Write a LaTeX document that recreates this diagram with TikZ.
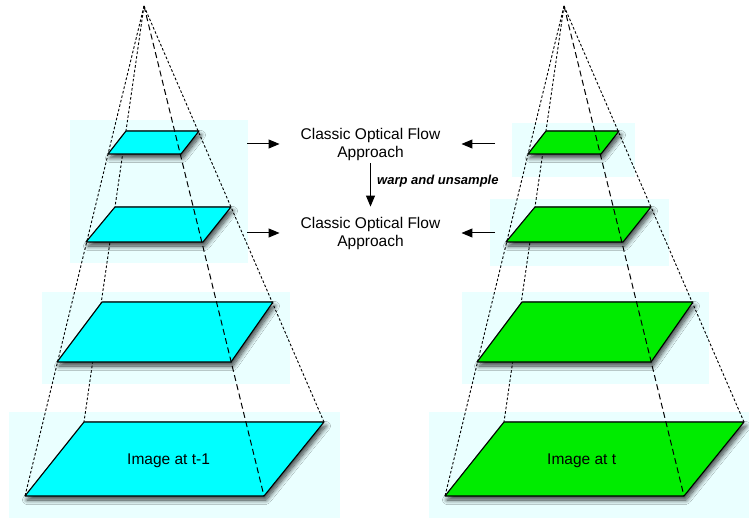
\documentclass[tikz,border=0pt]{standalone}
\usepackage{fontspec}
\setmainfont{Liberation Sans}
\usetikzlibrary{arrows.meta,shadows.blur}

\definecolor{haze}{RGB}{234,255,255}
\definecolor{planecyan}{RGB}{0,255,255}
\definecolor{planegreen}{RGB}{0,236,0}

\tikzset{
  panel/.style={fill=haze, draw=none},
  plane/.style={draw=black, line width=1.1pt, line join=round,
    blur shadow={shadow xshift=2pt, shadow yshift=-4pt,
      shadow blur radius=4.5pt, shadow blur steps=10, shadow opacity=75}},
  rib/.style={dash pattern=on 2.6pt off 2pt, line width=0.9pt},
  spine/.style={dash pattern=on 6pt off 3.5pt, line width=1pt},
  arr/.style={-{Triangle[length=11pt,width=9pt]}, line width=1pt},
  flow/.style={font=\fontsize{15.5}{18}\selectfont, align=center,
    inner xsep=21pt, inner ysep=3pt},
  caption/.style={font=\fontsize{15.5}{18}\selectfont, anchor=west, inner sep=0pt},
  % one image pyramid: four levels joined to a common apex
  pics/pyramid/.style={code={
    \coordinate (-apex) at (144,6);
    \coordinate (-a1) at (126,131); \coordinate (-b1) at (199,131);
    \coordinate (-c1) at (181,154); \coordinate (-d1) at (108,154);
    \coordinate (-a2) at (115,207); \coordinate (-b2) at (231,207);
    \coordinate (-c2) at (203,242); \coordinate (-d2) at (86,242);
    \coordinate (-a3) at (102,302); \coordinate (-b3) at (273,302);
    \coordinate (-c3) at (231,362); \coordinate (-d3) at (57,362);
    \coordinate (-a4) at (84,422);  \coordinate (-b4) at (324,422);
    \coordinate (-c4) at (264,496); \coordinate (-d4) at (25,496);
    \draw[rib] (-apex) -- (-d4);
    \draw[rib] (-apex) -- (-a4);
    \draw[rib] (-apex) -- (-b4);
    \foreach \i in {1,...,4}
      \draw[plane, fill=#1] (-a\i) -- (-b\i) -- (-c\i) -- (-d\i) -- cycle;
    \draw[spine] (-apex) -- (-c4);
  }}
}

\begin{document}
\begin{tikzpicture}[x=1pt, y=-1pt]
  \useasboundingbox (0,0) rectangle (749,518);

  % pale backdrops behind the levels
  \fill[panel] (70,120) rectangle (248,263);
  \fill[panel] (42,292) rectangle (290,384);
  \fill[panel] (9,412) rectangle (340,518);
  \fill[panel] (512,123) rectangle (635,177);
  \fill[panel] (490,199) rectangle (669,266);
  \fill[panel] (462,292) rectangle (709,384);
  \fill[panel] (429,412) rectangle (749,518);

  % the two pyramids
  \pic (prev) at (0,0) {pyramid=planecyan};
  \pic (curr) at (420,0) {pyramid=planegreen};

  \node[caption] (imgA) at (127,461) {Image at t-1};
  \node[caption] (imgB) at (547,461) {Image at t};

  % flow estimation steps
  \node[flow] (flowA) at (370.5,144) {Classic Optical Flow\\Approach};
  \node[flow] (flowB) at (370.5,233) {Classic Optical Flow\\Approach};
  \node[anchor=west, inner sep=0pt, font=\fontsize{13}{15}\selectfont\bfseries\itshape]
    (warp) at (377,181) {warp and unsample};

  \coordinate (inA1) at (247,144);
  \coordinate (inA2) at (247,233);
  \coordinate (inB1) at (495,144);
  \coordinate (inB2) at (495,233);

  \draw[arr] (inA1) -- (flowA.west);
  \draw[arr] (inA2) -- (flowB.west);
  \draw[arr] (inB1) -- (flowA.east);
  \draw[arr] (inB2) -- (flowB.east);
  \draw[arr] (flowA.south) -- ([yshift=7pt]flowB.north);
\end{tikzpicture}
\end{document}
